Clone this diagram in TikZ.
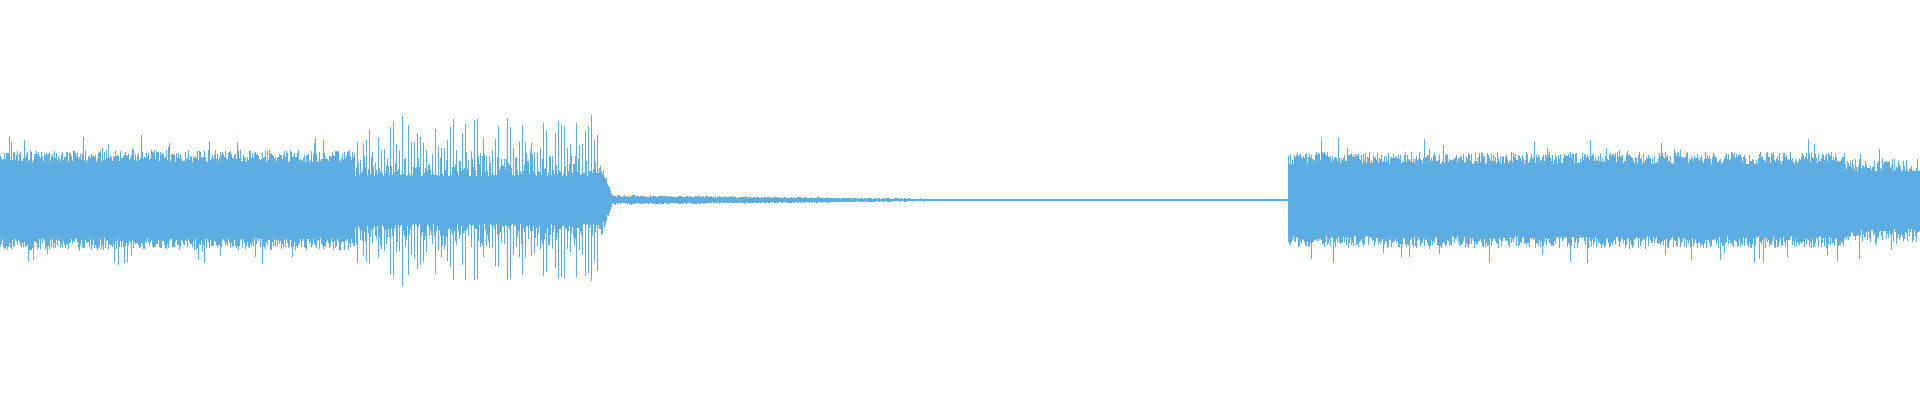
\documentclass[tikz,border=0pt]{standalone}
\begin{document}
\begin{tikzpicture}[x=0.01cm,y=0.01cm]
	\definecolor{wave}{RGB}{93,173,226}
	\tikzset{sample/.style={draw=wave, line width=0.013cm}}
	\newcommand{\envelope}[2]{% #1 column, #2 macro to set
		\ifnum#1<355 \pgfmathsetmacro{#2}{rnd<0.05 ? 50+15*rnd : 38+12*rnd}\else
		\ifnum#1<600 \pgfmathsetmacro{#2}{mod(#1,3)==0 ? \peak+8*rnd : 24+28*rnd*rnd}\else
		\ifnum#1<612 \pgfmathsetmacro{#2}{(40-35*(#1-600)/12)*(0.7+0.3*rnd)}\else
		\ifnum#1<1288 \pgfmathsetmacro{#2}{max(0.6,5*(1-(#1-612)/450)*(0.6+0.4*rnd))}\else
		\ifnum#1<1845 \pgfmathsetmacro{#2}{rnd<0.05 ? 48+15*rnd : 36+12*rnd}\else
		\pgfmathsetmacro{#2}{rnd<0.08 ? 40+25*rnd : 28+14*rnd}\fi\fi\fi\fi\fi}
	\useasboundingbox (0,0) rectangle (1920,400);
	\pgfmathsetseed{7}
	\foreach \x in {0,...,1919}{
		% one column per pixel
		\pgfmathsetmacro{\peak}{32+48*rnd}
		\envelope{\x}{\up}
		\envelope{\x}{\dn}
		\draw[sample] (\x+0.5,200-\dn) -- (\x+0.5,200+\up);
	}
\end{tikzpicture}
\end{document}
